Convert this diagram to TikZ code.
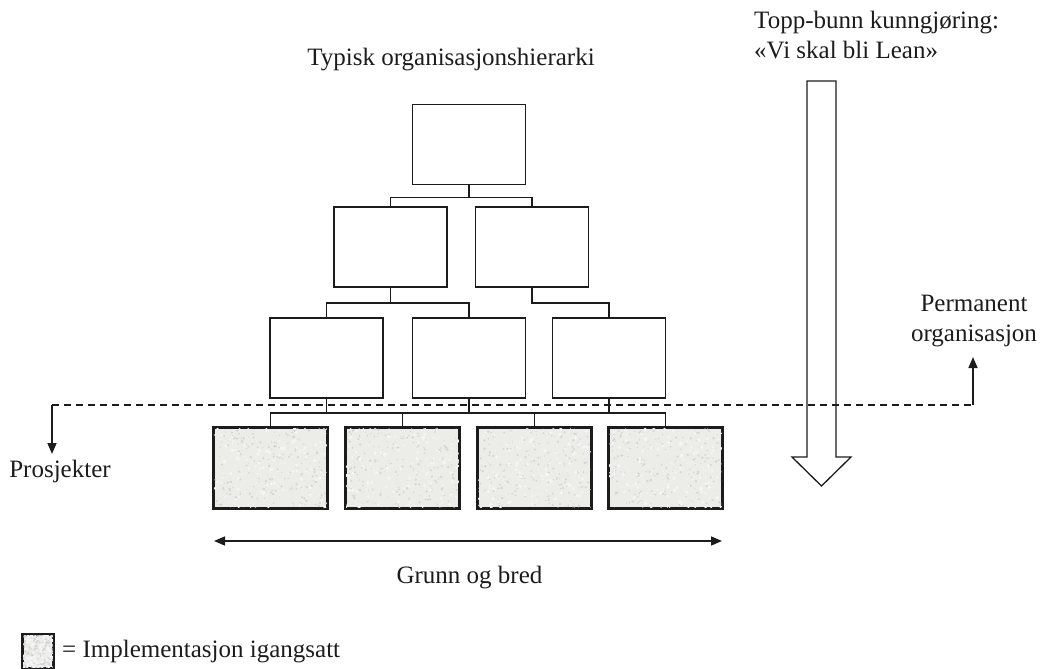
\documentclass[tikz,border=0pt]{standalone}
\usepackage{fontspec}
\setmainfont{Liberation Serif}
\usetikzlibrary{calc,arrows.meta}

\definecolor{stone}{RGB}{236,236,233}
\definecolor{ink}{RGB}{28,28,28}

% light mottled texture inside a node
\newcommand\mottle[1]{%
  \begin{scope}
    \clip (#1.south west) rectangle (#1.north east);
    \foreach \k in {1,...,220}{%
      \pgfmathsetmacro\spu{rnd}%
      \pgfmathsetmacro\spv{rnd}%
      \pgfmathsetmacro\spr{0.4+0.9*rnd}%
      \fill[black!17] let \p1=(#1.south west), \p2=(#1.north east) in
        ({\x1+\spu*(\x2-\x1)},{\y1+\spv*(\y2-\y1)}) circle[radius=\spr pt];
    }
    \foreach \k in {1,...,110}{%
      \pgfmathsetmacro\spu{rnd}%
      \pgfmathsetmacro\spv{rnd}%
      \pgfmathsetmacro\spr{0.8+1.2*rnd}%
      \fill[white!96!black] let \p1=(#1.south west), \p2=(#1.north east) in
        ({\x1+\spu*(\x2-\x1)},{\y1+\spv*(\y2-\y1)}) circle[radius=\spr pt];
    }
  \end{scope}
  \draw[ink, line width=1.8pt] (#1.south west) rectangle (#1.north east);}

\begin{document}
\begin{tikzpicture}[x=1pt, y=-1pt,
  orgbox/.style={draw=ink, line width=1.8pt, minimum width=113pt,
    minimum height=80pt, inner sep=0pt, fill=white},
  projbox/.style={orgbox, fill=stone},
  link/.style={draw=ink, line width=1.6pt},
  dashline/.style={draw=ink, line width=1.4pt, dash pattern=on 7pt off 5pt},
  tip/.style={-{Triangle[length=11pt,width=9pt]}},
  lbl/.style={font=\fontsize{25}{30}\selectfont, inner sep=0pt, text=ink}]

\pgfmathsetseed{4711}
\useasboundingbox (0,0) rectangle (1045,669);

% titles
\node[lbl, anchor=base] (title) at (451,66) {Typisk organisasjonshierarki};
\node[lbl, anchor=base west, align=left] (announce) at (754,59)
  {Topp-bunn kunngjøring:\\«Vi skal bli Lean»};

% hierarchy
\node[orgbox] (t) at (469,144.5) {};
\node[orgbox] (a) at (390.5,247) {};
\node[orgbox] (b) at (532,247) {};
\node[orgbox] (c) at (326.5,358) {};
\node[orgbox] (d) at (469,358) {};
\node[orgbox] (e) at (609,358) {};
\node[projbox] (p1) at (270.5,468) {};
\node[projbox] (p2) at (402.5,468) {};
\node[projbox] (p3) at (534.5,468) {};
\node[projbox] (p4) at (665.5,468) {};
\mottle{p1}\mottle{p2}\mottle{p3}\mottle{p4}

% tree connectors
\draw[link] (t.south) -- ++(0,12) -| (a.north);
\draw[link] (t.south) -- ++(0,12) -| (b.north);
\draw[link] (a.south) -- ++(0,15) -| (c.north);
\draw[link] (a.south) -- ++(0,15) -| (d.north);
\draw[link] (b.south) -- ++(0,15) -| (e.north);
\draw[link] (c.south) -- ++(0,14) -| (p1.north);
\draw[link] (c.south) -- ++(0,14) -| (p2.north);
\draw[link] (d.south) -- ++(0,14) -| (p2.north);
\draw[link] (d.south) -- ++(0,14) -| (p3.north);
\draw[link] (e.south) -- ++(0,14) -| (p3.north);
\draw[link] (e.south) -- ++(0,14) -| (p4.north);

% boundary between projects and permanent organisation
\coordinate (dl) at (52,405);
\coordinate (dr) at (973,405);
\coordinate (dltip) at (52,454);
\coordinate (drtip) at (973,357);
\node[lbl, anchor=base] (pro) at (60,477) {Prosjekter};
\node[lbl, anchor=base, align=center] (perm) at (974,341) {Permanent\\organisasjon};
\draw[dashline] (dl) -- (dr);
\draw[link, tip] (dl) -- (dltip);
\draw[link, tip] (dr) -- (drtip);

% top-down arrow
\draw[draw=ink, line width=1.3pt, line join=miter]
  (807,81) -- (836,81) -- (836,457) -- (851,457) -- (821.5,486)
  -- (792,457) -- (807,457) -- cycle;

% width of the base
\coordinate (wl) at (214,541);
\coordinate (wr) at (722,541);
\draw[link, {Triangle[length=11pt,width=9pt]}-{Triangle[length=11pt,width=9pt]}] (wl) -- (wr);
\node[lbl, anchor=base] (wide) at (469.5,583) {Grunn og bred};

% legend
\node[projbox, minimum width=30pt, minimum height=33pt] (key) at (38,651.5) {};
\mottle{key}
\node[lbl, anchor=base west] (keytext) at (62,657) {= Implementasjon igangsatt};
\end{tikzpicture}
\end{document}
